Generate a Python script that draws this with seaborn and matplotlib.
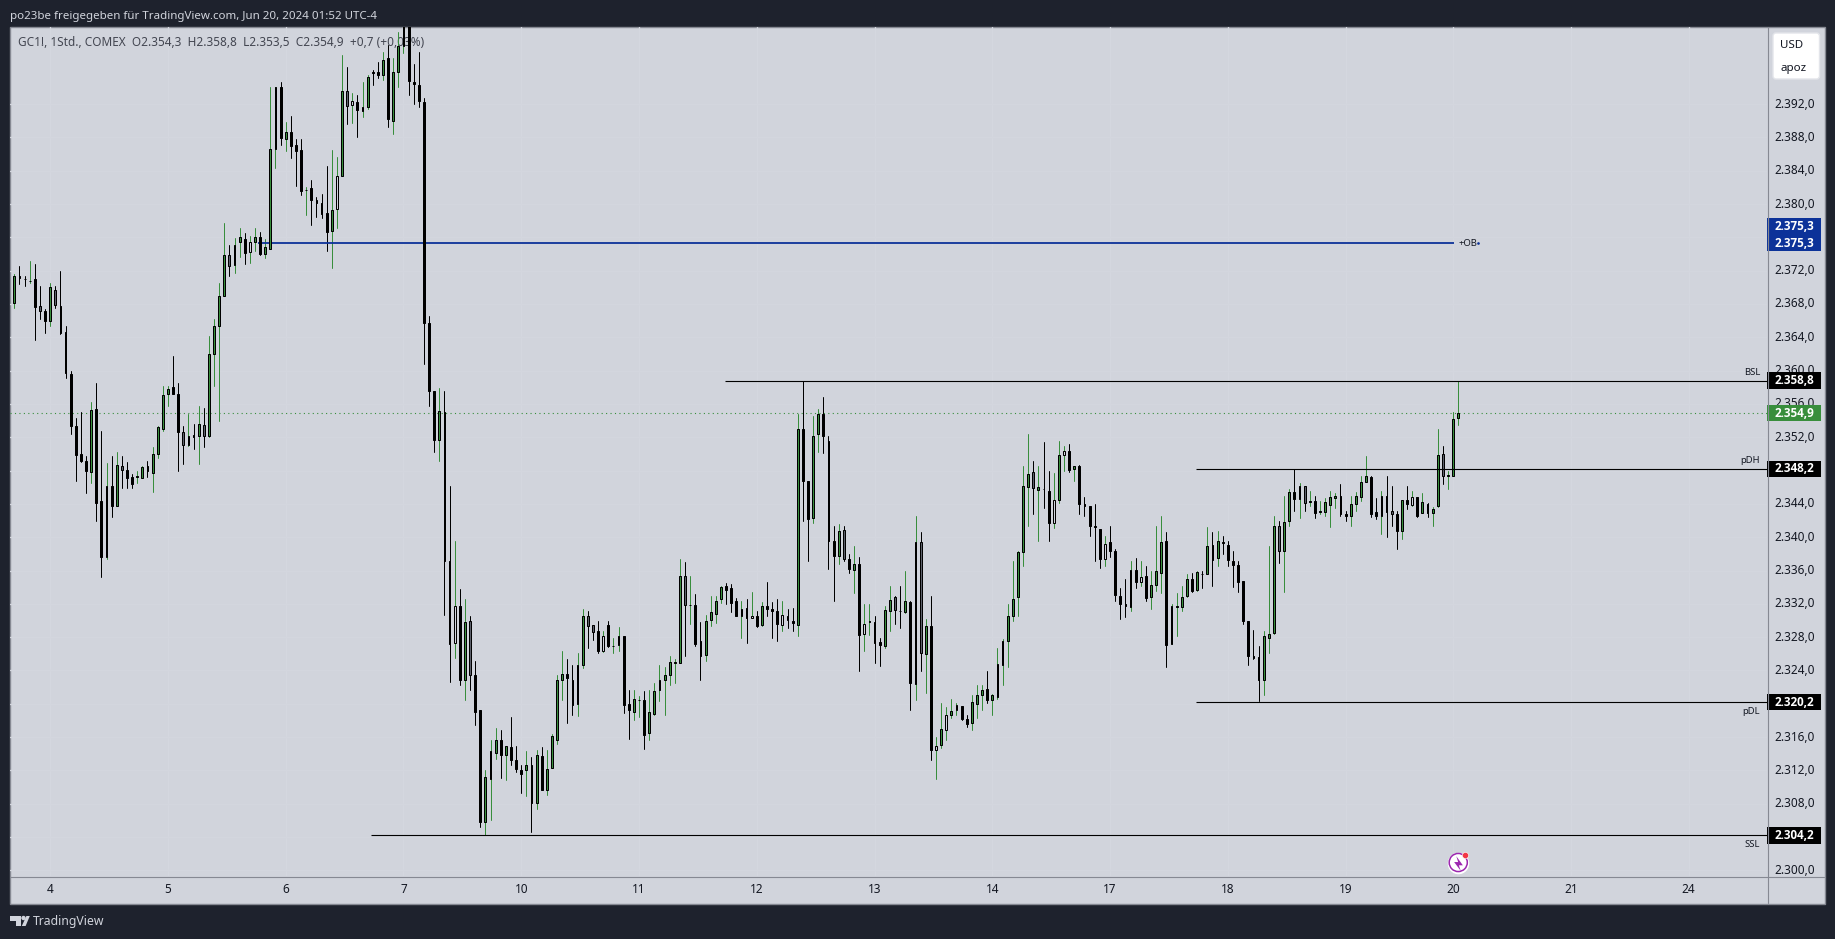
import numpy as np
import pandas as pd
import matplotlib
matplotlib.use("Agg")
import matplotlib.pyplot as plt
import matplotlib.lines as mlines
from matplotlib.patches import Rectangle, FancyBboxPatch, Polygon, Circle
from matplotlib.path import Path
from matplotlib.transforms import blended_transform_factory
import seaborn as sns

kinds = ("G B B G B A B G A B B B B B B G B B H B G A B B G G B G G G "
         "G B B A G B G A G G G G A G G B H G B G G G B G B B B G B A "
         "B B G H G A H B G G B B G B G G G B B B B B B G B B H B G A "
         "B B G G G B G B B B G B G B G G G G B A G G A A B H B G G B "
         "B G G B G G G G G G G A G B B G G G G B B B G B H B G B B B "
         "H A B G B B G G B B B G A B G B H G B B G G A B G B G A G B "
         "H G H G H B B G G G B G G G G G G G G A G B B H G H B G B B "
         "B B B H B B B B G B H B G G G B H G G G B G B G B G B B B B "
         "B B A B G G G A G G B G A G B G G G G B B G G G G B B G B A "
         "B G B H B G B G G A G G G").split()

opens = [
 2368.1,2371.4,2371.0,2370.8,2371.0,2367.7,2367.2,2366.0,2369.7,2367.7,
 2364.6,2359.6,2353.4,2350.0,2349.2,2347.8,2355.4,2344.3,2337.6,2346.2,
 2343.8,2348.6,2348.1,2347.2,2347.2,2347.1,2348.5,2347.7,2350.0,2353.0,
 2357.2,2358.0,2357.2,2352.6,2351.1,2352.3,2352.2,2353.5,2352.2,2362.0,
 2365.4,2369.0,2373.9,2372.7,2375.4,2375.8,2374.2,2375.4,2376.0,2374.0,
 2374.6,2386.6,2394.1,2387.8,2388.7,2387.1,2386.5,2381.7,2381.9,2380.5,
 2380.1,2378.9,2376.8,2379.4,2383.4,2393.6,2391.9,2392.3,2391.2,2391.6,
 2395.8,2395.8,2395.5,2397.5,2390.0,2395.9,2399.0,2404.0,2394.7,2394.3,
 2392.3,2365.7,2357.6,2351.7,2355.0,2337.2,2327.3,2331.7,2322.8,2329.9,
 2323.4,2319.2,2305.8,2311.0,2314.1,2315.6,2313.8,2314.8,2313.2,2312.1,
 2312.0,2312.7,2308.1,2313.7,2309.6,2312.3,2315.6,2322.8,2323.6,2322.9,
 2320.0,2324.7,2330.6,2329.5,2328.7,2326.3,2329.5,2327.0,2327.1,2328.1,
 2320.0,2319.0,2320.5,2320.4,2316.5,2318.8,2321.6,2322.8,2323.4,2324.9,
 2324.9,2335.3,2331.9,2331.9,2327.5,2325.9,2330.1,2330.8,2332.6,2334.1,
 2333.9,2332.3,2330.6,2331.5,2330.3,2330.6,2329.5,2331.7,2331.4,2331.2,
 2329.5,2330.6,2330.0,2329.5,2353.0,2346.8,2342.3,2352.4,2354.8,2351.6,
 2339.5,2337.8,2340.9,2337.4,2336.1,2336.8,2328.4,2329.8,2329.8,2327.4,
 2327.0,2331.2,2332.8,2331.2,2331.0,2332.2,2322.4,2339.4,2326.0,2329.4,
 2314.4,2315.0,2316.9,2318.6,2319.2,2319.7,2318.2,2317.7,2320.0,2321.0,
 2321.8,2320.5,2320.8,2324.7,2327.6,2330.6,2332.8,2338.2,2346.0,2347.8,
 2345.7,2345.8,2345.6,2341.7,2344.5,2349.9,2350.4,2348.2,2348.6,2344.0,
 2343.7,2341.4,2341.0,2337.4,2339.4,2338.4,2333.0,2332.0,2331.6,2336.1,
 2334.6,2335.3,2332.8,2334.3,2335.7,2339.6,2327.2,2331.6,2331.6,2332.9,
 2335.0,2333.7,2335.6,2335.6,2339.1,2337.5,2339.4,2339.1,2337.2,2336.7,
 2334.7,2330.0,2325.8,2325.6,2322.8,2327.9,2328.5,2341.4,2338.4,2342.0,
 2345.4,2344.6,2346.1,2344.2,2344.3,2343.0,2343.0,2343.9,2344.7,2345.0,
 2342.8,2342.6,2344.0,2344.8,2346.6,2347.2,2343.0,2342.6,2344.9,2343.2,
 2342.8,2340.8,2344.5,2343.9,2344.8,2342.9,2344.0,2342.9,2343.7,2350.0,2347.4,2347.4,2354.3]

closes = [
 2371.4,2371.1,2371.0,2370.8,2367.6,2367.2,2366.0,2370.0,2367.9,2364.5,
 2359.7,2353.4,2349.9,2349.2,2348.0,2355.3,2344.1,2337.6,2346.1,2343.8,
 2348.7,2348.1,2347.1,2346.4,2347.3,2348.4,2348.0,2350.0,2353.2,2357.1,
 2357.8,2357.2,2352.6,2351.1,2352.2,2352.0,2353.6,2352.2,2362.0,2365.3,
 2368.9,2373.9,2372.6,2375.1,2376.1,2374.1,2375.4,2376.0,2374.0,2374.8,
 2386.6,2394.1,2387.9,2388.6,2387.0,2386.4,2381.6,2381.7,2380.5,2380.1,
 2378.8,2376.6,2379.3,2383.4,2393.6,2391.8,2392.4,2391.3,2391.7,2395.3,
 2395.7,2395.5,2397.3,2390.2,2395.9,2399.0,2404.0,2394.8,2394.4,2392.4,
 2365.7,2357.6,2351.7,2355.1,2337.2,2327.2,2331.7,2322.8,2329.8,2323.4,
 2319.0,2305.8,2311.2,2314.3,2315.6,2313.9,2314.9,2313.3,2312.2,2311.6,
 2312.6,2308.1,2313.8,2309.7,2312.2,2316.1,2322.8,2323.6,2323.1,2319.9,
 2324.6,2330.6,2329.4,2328.6,2326.3,2328.1,2327.0,2327.0,2328.1,2319.9,
 2319.2,2320.6,2320.5,2316.3,2319.0,2321.5,2322.8,2323.4,2325.0,2325.0,
 2335.3,2331.9,2331.9,2327.2,2325.8,2330.0,2331.0,2332.4,2334.0,2333.7,
 2332.1,2330.6,2331.4,2330.3,2330.6,2329.3,2331.8,2331.4,2331.2,2329.6,
 2330.7,2330.1,2329.7,2353.0,2346.8,2342.2,2352.2,2354.8,2352.2,2339.6,
 2337.8,2340.8,2337.4,2336.2,2336.8,2328.3,2329.6,2329.9,2327.3,2327.1,
 2331.3,2332.5,2331.3,2331.2,2332.3,2322.5,2339.4,2326.1,2329.4,2314.4,
 2314.9,2317.0,2318.6,2319.1,2319.8,2318.2,2317.6,2320.2,2321.0,2321.7,
 2320.4,2321.0,2324.8,2327.6,2330.6,2332.6,2338.2,2346.2,2347.6,2345.9,
 2346.0,2345.8,2341.7,2344.5,2349.9,2350.4,2348.1,2348.5,2344.0,2343.8,
 2341.4,2341.2,2337.4,2339.2,2338.4,2333.1,2332.0,2331.8,2336.1,2334.6,
 2335.2,2332.7,2334.3,2335.9,2339.4,2327.1,2331.7,2331.7,2332.8,2335.0,
 2333.6,2335.8,2335.6,2339.0,2337.3,2339.6,2339.3,2337.3,2336.7,2334.6,
 2330.0,2325.8,2325.5,2322.8,2328.1,2328.4,2341.4,2338.4,2341.8,2345.4,
 2344.6,2346.2,2344.1,2344.3,2342.9,2343.1,2344.2,2344.8,2345.0,2342.8,
 2342.6,2344.0,2344.9,2346.6,2347.3,2342.8,2342.6,2344.9,2343.0,2342.8,
 2340.8,2344.5,2344.0,2344.8,2342.6,2344.2,2342.9,2343.4,2349.9,2347.4,2347.5,2354.2,2354.9]

highs = [
 2371.6,2372.6,2371.4,2373.2,2372.8,2370.2,2367.4,2370.5,2370.2,2372.0,
 2365.3,2359.9,2354.3,2355.0,2349.8,2356.2,2358.5,2352.7,2348.9,2349.8,
 2350.2,2349.7,2349.0,2347.6,2348.0,2348.6,2349.2,2350.8,2353.4,2358.1,
 2358.2,2361.8,2358.5,2353.4,2354.8,2353.6,2355.7,2355.5,2364.1,2366.2,
 2370.5,2377.7,2375.1,2375.9,2377.1,2376.5,2376.2,2377.1,2376.7,2375.8,
 2394.1,2394.1,2394.7,2389.8,2390.6,2387.8,2387.8,2382.1,2382.9,2380.9,
 2381.2,2384.6,2386.5,2385.7,2397.9,2396.4,2393.3,2393.1,2394.7,2395.5,
 2396.1,2397.1,2398.3,2399.1,2397.5,2400.7,2405.0,2406.0,2396.8,2398.3,
 2392.7,2366.5,2357.6,2357.9,2357.6,2346.2,2339.6,2333.8,2332.6,2330.5,
 2325.2,2319.2,2312.0,2315.6,2317.1,2316.8,2314.9,2318.4,2314.9,2312.7,
 2314.3,2313.6,2314.5,2314.8,2314.5,2316.4,2323.4,2326.4,2325.4,2324.6,
 2326.1,2331.4,2331.1,2329.5,2329.9,2328.7,2330.0,2327.9,2329.2,2328.1,
 2321.6,2321.6,2320.9,2321.5,2321.6,2322.5,2324.6,2324.4,2325.8,2325.4,
 2337.4,2337.0,2335.4,2333.2,2329.8,2330.7,2332.9,2332.9,2334.2,2334.5,
 2334.4,2332.7,2332.4,2332.6,2333.4,2331.1,2332.2,2334.6,2332.2,2332.6,
 2332.3,2331.4,2331.5,2354.8,2358.8,2346.8,2354.5,2355.4,2356.8,2352.2,
 2341.4,2341.6,2341.4,2338.0,2339.0,2337.6,2332.0,2332.0,2330.5,2327.9,
 2331.8,2334.2,2332.9,2334.2,2336.0,2332.4,2342.5,2340.6,2330.2,2333.0,
 2316.0,2320.1,2319.6,2320.6,2320.1,2319.7,2318.6,2321.0,2322.2,2322.2,
 2323.9,2321.2,2326.7,2327.8,2332.0,2337.2,2338.3,2348.5,2352.4,2349.1,
 2348.6,2351.4,2347.9,2347.7,2351.6,2351.0,2351.2,2348.5,2348.7,2344.8,
 2343.8,2344.0,2341.0,2340.2,2341.3,2338.6,2333.9,2335.0,2337.2,2337.5,
 2337.2,2336.6,2336.0,2341.4,2342.6,2340.6,2332.0,2333.3,2334.2,2335.6,
 2335.7,2336.0,2335.9,2341.2,2340.6,2340.7,2340.2,2339.6,2338.4,2337.2,
 2334.7,2330.0,2328.9,2327.0,2328.7,2338.9,2342.5,2342.0,2344.9,2345.8,
 2348.2,2346.5,2346.1,2345.6,2345.0,2344.3,2344.7,2345.6,2345.3,2346.4,
 2343.2,2345.0,2345.4,2347.4,2349.8,2347.4,2344.7,2345.6,2347.4,2346.2,
 2343.1,2344.5,2346.1,2345.6,2344.8,2345.3,2344.1,2343.6,2353.0,2351.0,2348.0,2355.0,2358.8]

lows = [
 2367.5,2370.4,2370.2,2370.5,2363.7,2366.2,2364.5,2365.4,2367.5,2364.4,
 2359.1,2352.4,2346.7,2349.0,2345.3,2346.5,2342.0,2335.2,2337.4,2342.4,
 2343.8,2345.9,2345.9,2345.9,2346.5,2347.1,2347.2,2345.4,2349.5,2352.7,
 2355.7,2357.2,2347.9,2348.8,2351.0,2350.6,2348.8,2350.8,2352.0,2358.1,
 2353.9,2369.0,2371.3,2371.7,2373.6,2372.8,2372.9,2374.4,2373.9,2373.5,
 2374.6,2384.3,2387.1,2386.4,2385.5,2382.2,2381.1,2378.7,2377.5,2378.4,
 2378.3,2374.3,2372.3,2377.1,2383.4,2389.6,2389.7,2388.1,2390.4,2391.4,
 2394.3,2395.1,2394.9,2389.3,2388.4,2394.1,2398.1,2393.1,2392.0,2391.6,
 2360.8,2355.8,2350.2,2349.1,2330.7,2322.6,2325.5,2322.3,2320.4,2321.7,
 2317.5,2305.2,2304.2,2306.0,2313.4,2311.1,2310.8,2312.7,2311.8,2309.3,
 2308.9,2304.6,2307.4,2309.6,2309.0,2312.3,2315.2,2320.4,2317.7,2318.7,
 2318.5,2324.3,2326.7,2327.7,2326.1,2326.2,2326.8,2326.1,2326.4,2318.9,
 2315.8,2318.0,2318.4,2314.6,2315.6,2318.6,2320.3,2318.6,2322.2,2322.5,
 2324.9,2325.8,2329.6,2327.0,2322.8,2325.1,2329.4,2329.7,2332.1,2332.0,
 2331.0,2330.5,2327.9,2327.3,2330.3,2329.2,2329.3,2330.6,2327.9,2327.6,
 2328.7,2329.1,2328.8,2328.2,2341.9,2337.2,2341.7,2350.2,2350.1,2336.2,
 2332.3,2336.8,2337.2,2335.7,2333.3,2323.9,2326.3,2328.3,2324.9,2324.5,
 2326.7,2328.8,2329.6,2329.1,2330.9,2319.2,2320.4,2323.9,2321.3,2313.2,
 2311.0,2314.7,2315.6,2318.3,2318.6,2318.0,2317.2,2316.8,2318.3,2319.2,
 2320.1,2318.6,2320.6,2322.2,2324.4,2330.0,2330.6,2336.5,2341.3,2342.8,
 2339.6,2343.5,2339.6,2341.1,2344.1,2348.0,2347.8,2346.7,2342.8,2342.5,
 2340.1,2337.2,2336.3,2336.6,2337.6,2332.3,2330.2,2330.4,2331.1,2333.9,
 2334.1,2332.4,2331.4,2333.6,2333.3,2324.4,2327.2,2328.1,2331.1,2332.8,
 2333.4,2333.6,2333.9,2335.6,2334.1,2336.6,2338.0,2336.6,2334.0,2333.4,
 2329.6,2324.6,2325.4,2320.3,2321.0,2326.1,2328.4,2336.9,2333.4,2341.3,
 2343.2,2342.3,2343.2,2343.8,2342.3,2342.8,2342.6,2341.2,2343.5,2342.6,
 2341.9,2341.4,2343.2,2344.4,2346.6,2342.4,2342.2,2340.4,2340.0,2341.4,
 2338.6,2339.8,2343.4,2343.8,2342.4,2342.9,2342.4,2341.4,2343.6,2346.4,2345.8,2347.3,2353.5]

day_labels = ["4","5","6","7","10","11","12","13","14","17","18","19","20","21","24"]
day_bars = [7,30,53,76,99,122,145,168,191,214,237,260,281,304,327]
week_start_days = {"10","17","24"}
price_ticks = list(range(2300, 2393, 4))

def de(p):
    s = f"{p:,.1f}"
    return s.replace(",", "X").replace(".", ",").replace("X", ".")

level_names = ["BSL", "pDH", "pDL", "SSL"]
level_prices = [2358.8, 2348.2, 2320.2, 2304.2]
level_starts = [138.7, 230.8, 230.8, 69.6]
ob_price = 2375.3
last_price = 2354.9

BG = "#d1d4dc"
DARK = "#1e222d"
BORDER = "#868993"
GREEN = "#388e3c"
BLUE = "#0c3299"
W, H = 1835, 939

sns.set_theme(style="white", rc={"axes.grid": False})
plt.rcParams["font.family"] = ["Noto Sans", "DejaVu Sans"]

fig = plt.figure(figsize=(W / 100, H / 100), dpi=100, facecolor=DARK)

def rect(l, t, r, b):
    return [l / W, 1 - b / H, (r - l) / W, (b - t) / H]

page = fig.add_axes([0, 0, 1, 1], zorder=0)
page.set_xlim(0, W); page.set_ylim(H, 0); page.axis("off")
page.add_patch(Rectangle((9.5, 27), 1815, 876.5, facecolor=BG, edgecolor=BORDER, lw=1))
page.text(10, 16, "po23be freigegeben für TradingView.com, Jun 20, 2024 01:52 UTC-4",
          color="#d1d4dc", fontsize=8.3, va="center", ha="left")
page.text(33, 921, "TradingView", color="#d1d4dc", fontsize=8.8, va="center", ha="left")
page.add_patch(Polygon([(10, 916), (21, 916), (21, 926), (15.5, 926), (15.5, 921), (10, 921)],
                       facecolor="#d1d4dc", edgecolor="none"))
page.add_patch(Circle((23.5, 918), 2.2, facecolor="#d1d4dc", edgecolor="none"))
page.add_patch(Polygon([(26.4, 916), (29.8, 916), (25.6, 926), (21.8, 926)],
                       facecolor="#d1d4dc", edgecolor="none"))

ax = fig.add_axes(rect(10, 27, 1767, 876), zorder=1)
ax.set_facecolor("none")
n = len(opens)
bars = np.arange(n)
op, cl, hi, lo = map(np.array, (opens, closes, highs, lows))
up = np.array([k in ("G", "H") for k in kinds])

for g in day_bars:
    ax.axvline(g, color="#d4d7df", lw=1, zorder=0.2)
for g in price_ticks:
    ax.axhline(g, color="#d3d6de", lw=1, zorder=0.2)

wicks = pd.DataFrame({
    "bar": np.repeat(bars, 2),
    "price": np.column_stack([lo, hi]).ravel(),
    "dir": np.repeat(np.where(up, "up", "down"), 2),
})
sns.lineplot(data=wicks, x="bar", y="price", units="bar", hue="dir", estimator=None, sort=False,
             palette={"up": GREEN, "down": "#000000"}, linewidth=0.72, legend=False, ax=ax, zorder=1.5)

bodies = pd.DataFrame({"bar": bars, "height": np.abs(cl - op)})
sns.barplot(data=bodies, x="bar", y="height", bottom=np.minimum(op, cl), native_scale=True,
            width=0.36, color="black", saturation=1, errorbar=None, edgecolor="black",
            linewidth=0.72, ax=ax, zorder=2)
fill = {"G": GREEN, "H": BG, "B": "#000000", "A": "#5d606b"}
for patch, k in zip(ax.patches, kinds):
    patch.set_facecolor(fill[k])

ax.plot([47.5, 281.2], [ob_price, ob_price], color=BLUE, lw=1.3, zorder=1.8, solid_capstyle="butt")
ax.annotate("+OB", (281.2, ob_price), xytext=(3, 0), textcoords="offset points", fontsize=6.8,
            color="#131722", va="center", ha="left")
ax.plot([285.8], [ob_price], marker="o", ms=0.9, color=BLUE)
xmax = 342.3
for name, price, start in zip(level_names, level_prices, level_starts):
    ax.plot([start, xmax], [price, price], color="black", lw=0.8, zorder=3, solid_capstyle="butt")
    above = name in ("BSL", "pDH")
    ax.annotate(name, (xmax, price), xytext=(-5, 6.2 if above else -6.5), textcoords="offset points",
                fontsize=6.8, color="#131722", va="center", ha="right")
ax.axhline(last_price, color=GREEN, lw=0.8, ls=(0, (1, 3)), zorder=1)

ax.text(18, 43, "GC1!, 1Std., COMEX  O2.354,3  H2.358,8  L2.353,5  C2.354,9  +0,7 (+0,03%)",
        transform=page.transData, color="#434651", fontsize=8.5, va="center", ha="left", zorder=0.5)

ax.set_xlim(-0.85, xmax)
ax.set_ylim(2299.33, 2401.25)
ax.set_xlabel(""); ax.set_ylabel("")
ax.set_xticks(day_bars, day_labels)
ax.set_yticks(price_ticks, [de(t) for t in price_ticks])
ax.yaxis.tick_right()
ax.tick_params(axis="x", length=0, pad=5, labelsize=8.5, labelcolor="#131722")
ax.tick_params(axis="y", length=0, pad=5.5, labelsize=8.5, labelcolor="#131722")
for lab in ax.get_xticklabels():
    if lab.get_text() in week_start_days:
        lab.set_fontweight("bold")
for tick in ax.yaxis.get_major_ticks():
    tick.label2.set_verticalalignment("center")
for s in ax.spines.values():
    s.set_visible(False)

trans = blended_transform_factory(ax.transAxes, ax.transData)
tag_w = 54 / 1757
tag_prices = [2377.3, ob_price, level_prices[0], last_price, level_prices[1], level_prices[2], level_prices[3]]
tag_vals = [ob_price, ob_price, level_prices[0], last_price, level_prices[1], level_prices[2], level_prices[3]]
tag_cols = [BLUE, BLUE, "#000000", GREEN, "#000000", "#000000", "#000000"]
for yp, val, col in zip(tag_prices, tag_vals, tag_cols):
    ax.add_patch(Rectangle((1.0, yp - 1.0), tag_w, 2.0, transform=trans, facecolor=col, edgecolor="none",
                           clip_on=False, zorder=5))
    ax.text(1 + 7.5 / 1757, yp, de(val), transform=trans, color="white", fontsize=8.4, fontweight="bold",
            family=["Open Sans", "DejaVu Sans"], va="center", ha="left", zorder=6, clip_on=False)

bolt = Path(np.array([[0.3, -1], [-0.6, 0.2], [-0.05, 0.2], [-0.3, 1], [0.6, -0.25], [0.05, -0.25], [0.3, -1]]))
ax.scatter([282], [2300.95], s=240, c="white", zorder=4, clip_on=False, linewidths=0)
ax.scatter([282], [2300.95], s=170, facecolors="none", edgecolors="#9c27b0", linewidths=1.1, zorder=4.2)
ax.scatter([282], [2300.95], s=110, marker=bolt, c="#9c27b0", zorder=4.3, linewidths=0)
ax.scatter([283.33], [2301.83], s=20, c="#f23645", edgecolors="white", linewidths=0.4, zorder=4.4)

over = fig.add_axes([0, 0, 1, 1], zorder=2)
over.set_xlim(0, W); over.set_ylim(H, 0); over.axis("off"); over.patch.set_alpha(0)
over.add_line(mlines.Line2D([1767.5, 1767.5], [27, 903], color=BORDER, lw=0.8))
over.add_line(mlines.Line2D([10, 1824], [876.5, 876.5], color=BORDER, lw=0.8))
over.add_patch(FancyBboxPatch((1773, 33), 46.5, 46, boxstyle="round,pad=0,rounding_size=3",
                              facecolor="white", edgecolor="#e3e5ea", lw=1))
over.text(1780, 45.5, "USD", fontsize=8.3, color="#131722", va="center", ha="left")
over.text(1780, 69, "apoz", fontsize=8.3, color="#131722", va="center", ha="left")

fig.savefig("out.png", dpi=100, facecolor=DARK)
